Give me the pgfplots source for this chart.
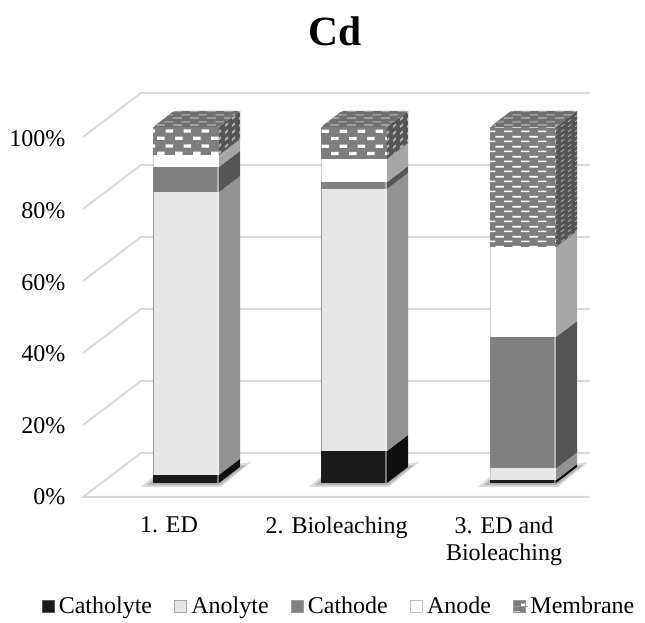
\documentclass[border=0pt]{standalone}
\usepackage{fontspec}
\setmainfont{Liberation Serif}
\usepackage{pgfplots}
\pgfplotsset{compat=1.18}
\usetikzlibrary{patterns}
\definecolor{gridc}{HTML}{D9D9D9}
% brick patterns of white dashes
\pgfdeclarepatternformonly{bricka}{\pgfpointorigin}{\pgfqpoint{17.4pt}{14.6pt}}{\pgfqpoint{17.4pt}{14.6pt}}{%
  \pgfpathrectangle{\pgfqpoint{0pt}{1pt}}{\pgfqpoint{7.8pt}{3.3pt}}%
  \pgfpathrectangle{\pgfqpoint{8.7pt}{8.3pt}}{\pgfqpoint{7.8pt}{3.3pt}}%
  \pgfusepath{fill}}
\pgfdeclarepatternformonly{brickb}{\pgfpointorigin}{\pgfqpoint{17.4pt}{10pt}}{\pgfqpoint{17.4pt}{10pt}}{%
  \pgfpathrectangle{\pgfqpoint{0pt}{1pt}}{\pgfqpoint{8.6pt}{1.7pt}}%
  \pgfpathrectangle{\pgfqpoint{8.7pt}{6pt}}{\pgfqpoint{8.6pt}{1.7pt}}%
  \pgfusepath{fill}}
% sheared dots for the side faces
\pgfdeclarepatternformonly{sidea}{\pgfpointorigin}{\pgfqpoint{7pt}{7.3pt}}{\pgfqpoint{7pt}{7.3pt}}{%
  \pgfpathmoveto{\pgfqpoint{1pt}{1pt}}\pgfpathlineto{\pgfqpoint{4.5pt}{3.6pt}}%
  \pgfpathlineto{\pgfqpoint{4.5pt}{6.2pt}}\pgfpathlineto{\pgfqpoint{1pt}{3.6pt}}\pgfpathclose
  \pgfusepath{fill}}
\pgfdeclarepatternformonly{sideb}{\pgfpointorigin}{\pgfqpoint{7pt}{5pt}}{\pgfqpoint{7pt}{5pt}}{%
  \pgfpathmoveto{\pgfqpoint{1pt}{1pt}}\pgfpathlineto{\pgfqpoint{4.8pt}{3.8pt}}%
  \pgfpathlineto{\pgfqpoint{4.8pt}{4.9pt}}\pgfpathlineto{\pgfqpoint{1pt}{2.1pt}}\pgfpathclose
  \pgfusepath{fill}}
% flat dashes for the top faces
\pgfdeclarepatternformonly{topa}{\pgfpointorigin}{\pgfqpoint{17.4pt}{7pt}}{\pgfqpoint{17.4pt}{7pt}}{%
  \pgfpathrectangle{\pgfqpoint{0pt}{0.5pt}}{\pgfqpoint{9pt}{1.2pt}}%
  \pgfpathrectangle{\pgfqpoint{8.7pt}{4pt}}{\pgfqpoint{8.7pt}{1.2pt}}%
  \pgfusepath{fill}}
% one stacked segment: left x, lower, upper, front, side, edge
\newcommand{\seg}[6]{%
  \pgfmathsetmacro{\xa}{#1+66}\pgfmathsetmacro{\xb}{#1+87}%
  \pgfmathsetmacro{\va}{#2+4.5}\pgfmathsetmacro{\vb}{#3+4.5}%
  \addplot[fill=#4,draw=none,forget plot] coordinates {(#1,#2)(\xa,#2)(\xa,#3)(#1,#3)} --cycle;
  \addplot[fill=#5,draw=none,forget plot] coordinates {(\xa,#2)(\xb,\va)(\xb,\vb)(\xa,#3)} --cycle;
  \addplot[draw=#6,line width=1.2pt,forget plot] coordinates {(#1+0.6,#2)(#1+0.6,#3)};
  \addplot[draw=#4!60!white,line width=2pt,forget plot] coordinates {(\xa-1,#2)(\xa-1,#3)};
}
% membrane segment with textures
\newcommand{\mem}[4]{%
  \pgfmathsetmacro{\xa}{#1+66}\pgfmathsetmacro{\xb}{#1+87}\pgfmathsetmacro{\xc}{#1+21}%
  \pgfmathsetmacro{\va}{#2+4.5}\pgfmathsetmacro{\vb}{#3+4.5}%
  \addplot[fill=memfront,draw=none,forget plot,postaction={pattern=brick#4,pattern color=white}] coordinates {(#1,#2)(\xa,#2)(\xa,#3)(#1,#3)} --cycle;
  \addplot[fill=memside,draw=none,forget plot,postaction={pattern=side#4,pattern color=memdot}] coordinates {(\xa,#2)(\xb,\va)(\xb,\vb)(\xa,#3)} --cycle;
  \addplot[fill=memtop,draw=none,rounded corners=2.5pt,forget plot,postaction={pattern=topa,pattern color=memdash}] coordinates {(#1,#3)(\xa,#3)(\xb,\vb)(\xc,\vb)} --cycle;
}
% floor shadow
\newcommand{\shadow}[1]{%
  \pgfmathsetmacro{\sa}{#1-12}\pgfmathsetmacro{\sb}{#1+68}\pgfmathsetmacro{\sc}{#1+98}%
  \pgfmathsetmacro{\sd}{#1-6}\pgfmathsetmacro{\se}{#1+67}\pgfmathsetmacro{\sf}{#1+93}%
  \addplot[fill=black,fill opacity=0.14,draw=none,forget plot] coordinates {(\sa,-1.1)(\sb,-1.1)(\sc,5.9)(#1,1.8)} --cycle;
  \addplot[fill=black,fill opacity=0.18,draw=none,forget plot] coordinates {(\sd,-0.6)(\se,-0.6)(\sf,5)(#1,1)} --cycle;
}
\definecolor{memfront}{HTML}{7D7D7D}
\definecolor{memside}{HTML}{555555}
\definecolor{memtop}{HTML}{707070}
\definecolor{memdot}{HTML}{B0B0B0}
\definecolor{memdash}{HTML}{B8B8B8}
\definecolor{cat}{HTML}{1A1A1A}\definecolor{catS}{HTML}{0F0F0F}
\definecolor{ano}{HTML}{E6E6E6}\definecolor{anoS}{HTML}{939393}
\definecolor{cth}{HTML}{808080}\definecolor{cthS}{HTML}{555555}
\definecolor{ande}{HTML}{FFFFFF}\definecolor{andeS}{HTML}{A6A6A6}
\begin{document}
\begin{tikzpicture}
\begin{axis}[
  scale only axis, width=507pt, height=404pt,
  xmin=83, xmax=590, ymin=-3.933, ymax=109.55,
  clip=false,
  axis line style={draw=none},
  tick style={draw=none},
  xtick={169,336.5,504},
  xticklabels={1. ED,2. Bioleaching,{3. ED and\\Bioleaching}},
  ytick={-3.933,16.2,36.3,56.4,76.6,96.7},
  yticklabels={0\%,20\%,40\%,60\%,80\%,100\%},
  xticklabel style={align=center,font=\fontsize{24}{27}\selectfont,yshift=-16pt},
  yticklabel style={font=\fontsize{24}{27}\selectfont,xshift=-14pt},
  legend columns=5,
  legend style={draw=none,fill=none,at={(axis cs:339,-34.6)},anchor=center,
    font=\fontsize{24}{27}\selectfont,
    /tikz/every even column/.style={column sep=20pt},
    inner sep=0pt},
  legend image code/.code={\path[#1] (0pt,-6pt) rectangle (12pt,6pt);\path[draw=none,fill=none] (0pt,0pt) -- (15pt,0pt);},
]
\addlegendimage{fill=cat,draw=gray!70!black}
\addlegendentry{Catholyte}
\addlegendimage{fill=ano,draw=gray!70}
\addlegendentry{Anolyte}
\addlegendimage{fill=cth,draw=gray!80}
\addlegendentry{Cathode}
\addlegendimage{fill=ande,draw=gray!50}
\addlegendentry{Anode}
\addlegendimage{fill=memfront,draw=gray!80,postaction={pattern=bricka,pattern color=white}}
\addlegendentry{Membrane}
% walls and floor
\addplot[gridc,line width=2pt,forget plot] coordinates {(83,97.19)(141,109.55)(590,109.55)};
\addplot[gridc,line width=2pt,forget plot] coordinates {(83,76.97)(141,89.33)(590,89.33)};
\addplot[gridc,line width=2pt,forget plot] coordinates {(83,56.74)(141,69.10)(590,69.10)};
\addplot[gridc,line width=2pt,forget plot] coordinates {(83,36.52)(141,48.88)(590,48.88)};
\addplot[gridc,line width=2pt,forget plot] coordinates {(83,16.29)(141,28.65)(590,28.65)};
\addplot[gridc,line width=2pt,forget plot] coordinates {(590,8.43)(141,8.43)(83,-3.933)(590,-3.933)};
\shadow{153}\shadow{321}\shadow{490}
% bar 1
\seg{153}{0}{2.3}{cat}{catS}{cat}
\seg{153}{2.3}{81.7}{ano}{anoS}{gray!75}
\seg{153}{81.7}{88.8}{cth}{cthS}{cth}
\seg{153}{88.8}{92.1}{ande}{andeS}{gray!35}
\mem{153}{92.1}{100}{a}
% bar 2
\seg{321}{0}{9}{cat}{catS}{cat}
\seg{321}{9}{82.6}{ano}{anoS}{gray!75}
\seg{321}{82.6}{84.5}{cth}{cthS}{cth}
\seg{321}{84.5}{91}{ande}{andeS}{gray!35}
\mem{321}{91}{100}{a}
% bar 3
\seg{490}{0}{0.8}{cat}{catS}{cat}
\seg{490}{0.8}{4.1}{ano}{anoS}{gray!45}
\seg{490}{4.1}{41}{cth}{cthS}{cth}
\seg{490}{41}{66.3}{ande}{andeS}{gray!35}
\mem{490}{66.3}{100}{b}
\node[font=\bfseries\fontsize{41.5}{45}\selectfont] at (axis cs:335.5,127) {Cd};
\path (axis cs:0,-39.33) rectangle (axis cs:645,135.67);
\end{axis}
\end{tikzpicture}
\end{document}
